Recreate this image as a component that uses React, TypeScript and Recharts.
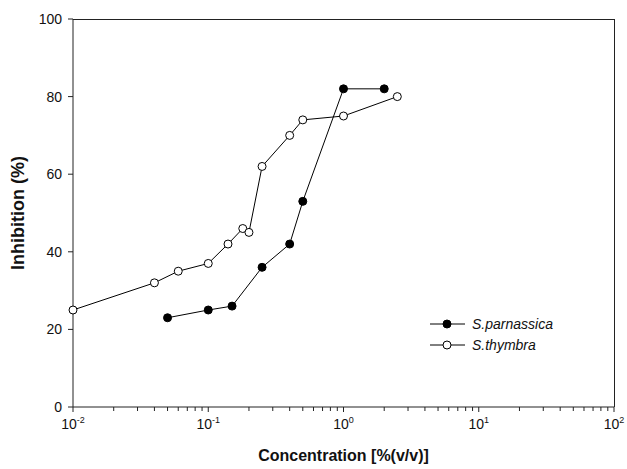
import React from 'react';
import { LineChart, Line, XAxis, YAxis, Legend, Label } from 'recharts';

const parnassicaX = [0.05, 0.1, 0.15, 0.25, 0.4, 0.5, 1, 2];
const parnassicaY = [23, 25, 26, 36, 42, 53, 82, 82];
const thymbraX = [0.01, 0.04, 0.06, 0.1, 0.14, 0.18, 0.2, 0.25, 0.4, 0.5, 1, 2.5];
const thymbraY = [25, 32, 35, 37, 42, 46, 45, 62, 70, 74, 75, 80];

const majorTicks = [0.01, 0.1, 1, 10, 100];
const majorLabels = ['-2', '-1', '0', '1', '2'];
const minorSteps = [2, 3, 4, 5, 6, 7, 8, 9];
const yTicks = [0, 20, 40, 60, 80, 100];

const xTicks = [
  ...majorTicks,
  ...majorTicks.slice(0, -1).flatMap((d) => minorSteps.map((m) => +(d * m).toPrecision(3))),
].sort((a, b) => a - b);

const parnassica = parnassicaX.map((x, i) => ({ x, y: parnassicaY[i] }));
const thymbra = thymbraX.map((x, i) => ({ x, y: thymbraY[i] }));

const W = 627;
const H = 469;
const MARGIN = { top: 19, right: 13, bottom: 0, left: 0 };
const Y_AXIS_W = 73;
const X_AXIS_H = 62;

const FONT = '"Liberation Sans", Arial, sans-serif';
const AXIS = '#222';

const LogTick = (props: any) => {
  const { x, y, payload } = props;
  const idx = majorTicks.findIndex((t) => Math.abs(t - payload.value) < 1e-9);
  if (idx < 0) {
    return <line x1={x} y1={y} x2={x} y2={y + 4} stroke={AXIS} strokeWidth={1} />;
  }
  return (
    <g>
      <line x1={x} y1={y} x2={x} y2={y + 5} stroke={AXIS} strokeWidth={1} />
      <text x={x} y={y + 22} textAnchor="middle" fontSize={14} fontFamily={FONT} fill="#111">
        <tspan>10</tspan>
        <tspan dy={-6} fontSize={9}>{majorLabels[idx]}</tspan>
      </text>
    </g>
  );
};

const LegendBox = () => {
  const rows = [
    { name: 'S.parnassica', fill: '#000' },
    { name: 'S.thymbra', fill: '#fff' },
  ];
  return (
    <div style={{ fontFamily: FONT }}>
      {rows.map((r) => (
        <div key={r.name} style={{ display: 'flex', alignItems: 'center', height: 21 }}>
          <svg width={44} height={12}>
            <line x1={2} y1={6} x2={37} y2={6} stroke="#000" strokeWidth={1} />
            <circle cx={19} cy={6} r={4} fill={r.fill} stroke="#000" strokeWidth={1} />
          </svg>
          <span style={{ fontStyle: 'italic', fontSize: 14, color: '#111' }}>{r.name}</span>
        </div>
      ))}
    </div>
  );
};

export default function App() {
  // plot frame (top + right edges) laid over the chart's plot box
  const frame = {
    left: MARGIN.left + Y_AXIS_W - 0.5,
    top: MARGIN.top - 0.5,
    width: W - MARGIN.left - MARGIN.right - Y_AXIS_W,
    height: H - MARGIN.top - MARGIN.bottom - X_AXIS_H,
  };
  return (
    <div style={{ position: 'absolute', left: 0, top: 0, width: W, height: H, background: '#fff' }}>
      <LineChart width={W} height={H} margin={MARGIN}>
        <XAxis
          dataKey="x"
          type="number"
          scale="log"
          domain={[0.01, 100]}
          ticks={xTicks}
          interval={0}
          tickSize={0}
          tickMargin={0}
          tickLine={false}
          tick={<LogTick />}
          height={X_AXIS_H}
          stroke={AXIS}
        >
          <Label
            value="Concentration [%(v/v)]"
            position="insideBottom"
            offset={8}
            style={{ fontFamily: FONT, fontSize: 16, fontWeight: 'bold', fill: '#111' }}
          />
        </XAxis>
        <YAxis
          type="number"
          domain={[0, 100]}
          ticks={yTicks}
          width={Y_AXIS_W}
          tickSize={5}
          tickMargin={6}
          stroke={AXIS}
          tick={{ fontSize: 14, fontFamily: FONT, fill: '#111' }}
        >
          <Label
            value="Inhibition (%)"
            angle={-90}
            position="insideLeft"
            offset={18}
            style={{ textAnchor: 'middle', fontFamily: FONT, fontSize: 18, fontWeight: 'bold', fill: '#111' }}
          />
        </YAxis>
        <Legend
          layout="vertical"
          align="center"
          verticalAlign="middle"
          content={<LegendBox />}
          wrapperStyle={{ left: 428, top: 313, width: 'auto' }}
        />
        <Line
          data={parnassica}
          dataKey="y"
          name="S.parnassica"
          stroke="#000"
          strokeWidth={1}
          dot={{ r: 4, fill: '#000', stroke: '#000', strokeWidth: 1 }}
          isAnimationActive={false}
        />
        <Line
          data={thymbra}
          dataKey="y"
          name="S.thymbra"
          stroke="#000"
          strokeWidth={1}
          dot={{ r: 4, fill: '#fff', stroke: '#000', strokeWidth: 1 }}
          isAnimationActive={false}
        />
      </LineChart>
      <div
        style={{
          position: 'absolute',
          ...frame,
          borderTop: `1px solid ${AXIS}`,
          borderRight: `1px solid ${AXIS}`,
          boxSizing: 'border-box',
          width: frame.width + 1,
          pointerEvents: 'none',
        }}
      />
    </div>
  );
}
